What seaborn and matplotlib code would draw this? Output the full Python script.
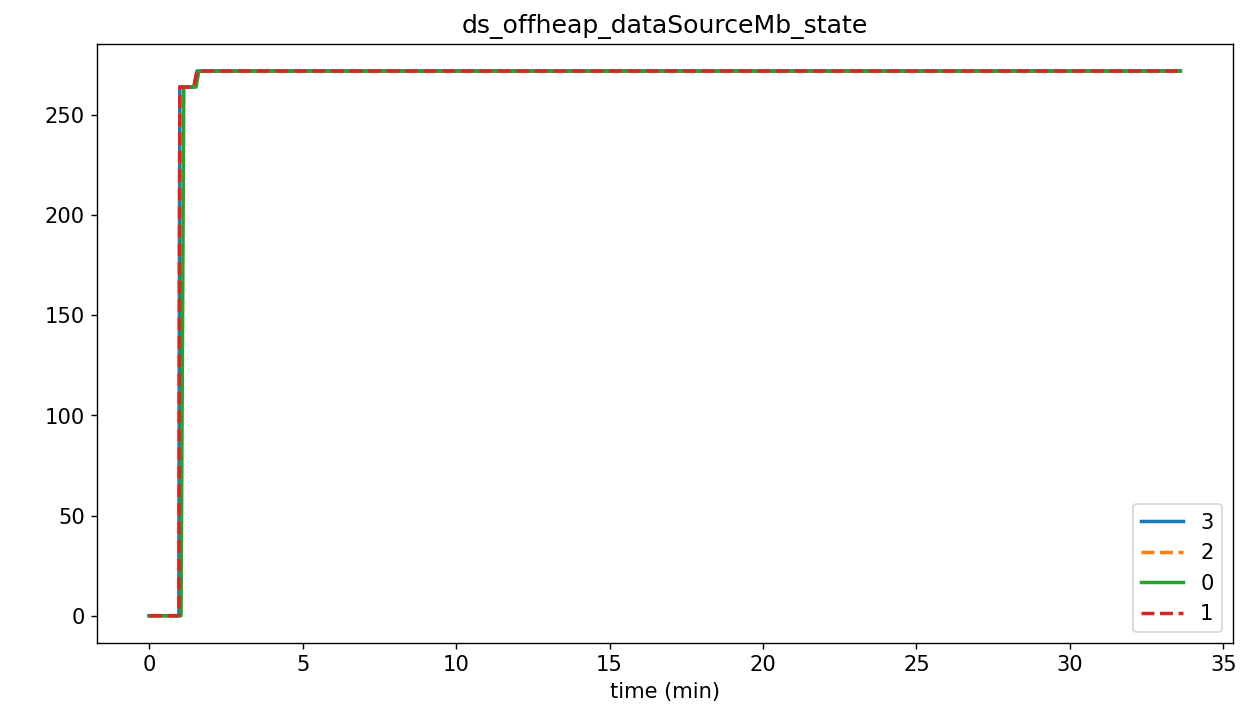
import pandas as pd
import numpy as np
import matplotlib.pyplot as plt
import seaborn as sns

# data (time in minutes, value in Mb)
t_early = [0.0, 0.97, 1.0, 1.46, 1.56, 33.6]
v_early = [0, 0, 264, 264, 272, 272]
t_late = [0.0, 1.04, 1.13, 1.53, 1.62, 33.6]
v_late = [0, 0, 264, 264, 272, 272]

series_order = ["3", "2", "0", "1"]
series_times = {"3": t_early, "2": t_early, "0": t_late, "1": t_early}
series_vals = {"3": v_early, "2": v_early, "0": v_late, "1": v_early}

rows = []
for name in series_order:
    for t, v in zip(series_times[name], series_vals[name]):
        rows.append({"time": t, "value": v, "node": name})
df = pd.DataFrame(rows)

plt.rcParams["font.size"] = 12
fig, ax = plt.subplots(figsize=(10, 5.72), dpi=125.9)
palette = dict(zip(series_order, sns.color_palette("tab10", 4)))
dashes = {"3": "", "2": (3.7, 1.6), "0": "", "1": (3.7, 1.6)}

sns.lineplot(data=df, x="time", y="value", hue="node", style="node",
             hue_order=series_order, style_order=series_order,
             palette=palette, dashes=dashes, estimator=None, sort=False,
             linewidth=2, ax=ax)

ax.set_title("ds_offheap_dataSourceMb_state")
ax.set_xlabel("time (min)")
ax.set_ylabel("")
ax.set_xlim(-1.7, 35.3)
ax.set_ylim(-13.6, 285.6)
ax.set_xticks(np.arange(0, 36, 5))
ax.legend(loc="lower right", title=None)

fig.subplots_adjust(left=0.077, right=0.979, top=0.939, bottom=0.107)
plt.savefig("out.png")
